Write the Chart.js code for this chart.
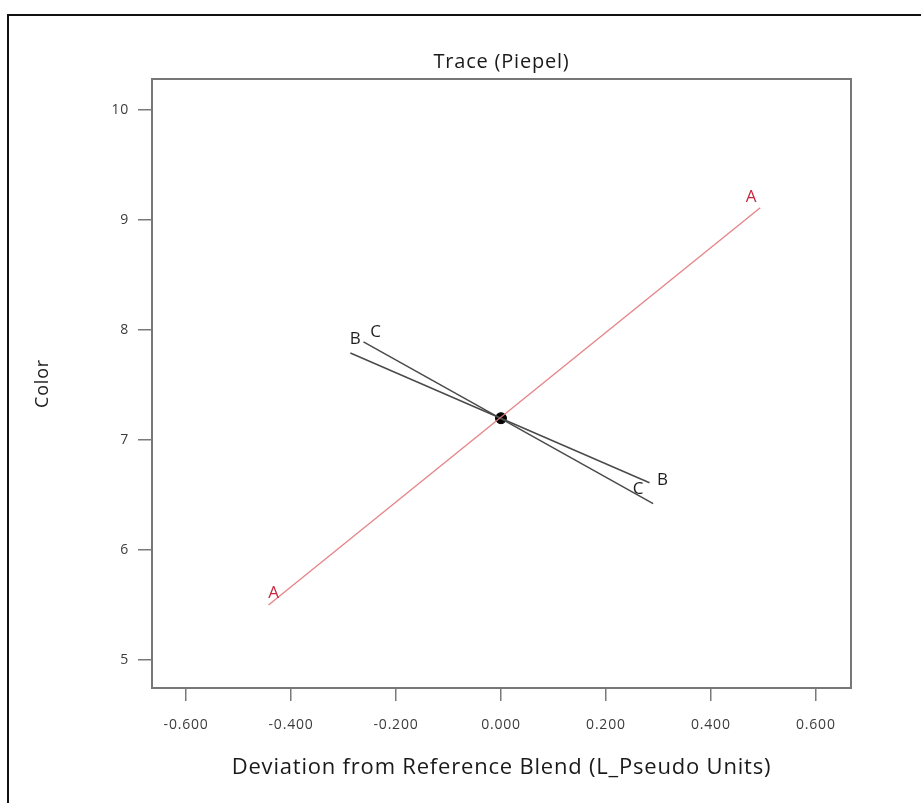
<!DOCTYPE html>
<html>
<head>
<meta charset="utf-8">
<title>Trace (Piepel)</title>
<script src="https://cdn.jsdelivr.net/npm/chart.js@4/dist/chart.umd.min.js"></script>
<style>
  html, body { margin: 0; padding: 0; background: #ffffff; }
  #wrap { width: 921px; height: 803px; position: relative; }
</style>
</head>
<body>
<div id="wrap"><canvas id="c" width="921" height="803"></canvas></div>
<script>
// Trace lines: component deviation vs. predicted Color (two end points each)
const traceNames = ['A', 'B', 'C'];
const aX = [-0.443, 0.494];
const aY = [5.50, 9.11];
const bX = [-0.287, 0.283];
const bY = [7.79, 6.61];
const cX = [-0.262, 0.290];
const cY = [7.89, 6.42];
// reference blend point
const refX = [0.000];
const refY = [7.197];

// axis ticks
const xTickValues = [-0.6, -0.4, -0.2, 0.0, 0.2, 0.4, 0.6];
const xTickLabels = ['-0.600', '-0.400', '-0.200', '0.000', '0.200', '0.400', '0.600'];
const yTickValues = [5, 6, 7, 8, 9, 10];
const yTickLabels = ['5', '6', '7', '8', '9', '10'];

const FONT = "'Open Sans', 'Noto Sans', sans-serif";
const toPoints = (xs, ys) => xs.map((x, i) => ({ x: x, y: ys[i] }));

const traceStyle = {
  A: { line: 'rgba(226,120,124,0.9)', text: '#c8283c' },
  B: { line: '#4a4a4a', text: '#1e1e1e' },
  C: { line: '#4a4a4a', text: '#1e1e1e' }
};
// letter placement relative to each line end (pixels): [start end, finish end]
const labelOffsets = {
  A: [[5, -12], [-9, -11]],
  B: [[5, -14], [13, -3]],
  C: [[12, -10], [-15, -15]]
};

const traceData = { A: toPoints(aX, aY), B: toPoints(bX, bY), C: toPoints(cX, cY) };

const datasets = traceNames.map(name => ({
  label: name,
  type: 'line',
  data: traceData[name],
  borderColor: traceStyle[name].line,
  borderWidth: name === 'A' ? 1.4 : 1.5,
  pointRadius: 0,
  fill: false,
  tension: 0
}));
datasets.push({
  label: 'Reference',
  type: 'scatter',
  data: toPoints(refX, refY),
  pointRadius: 5.5,
  pointBackgroundColor: '#000000',
  pointBorderColor: '#000000'
});

// outer page border, plot frame and the slightly open letter spacing used for text
const framePlugin = {
  id: 'frames',
  beforeDraw(chart) {
    const ctx = chart.ctx;
    ctx.letterSpacing = '0.8px';
    ctx.save();
    ctx.strokeStyle = '#111111';
    ctx.lineWidth = 2;
    ctx.beginPath();
    ctx.moveTo(8, 803);
    ctx.lineTo(8, 15);
    ctx.lineTo(921, 15);
    ctx.stroke();
    ctx.restore();
  },
  beforeDatasetsDraw(chart) {
    const a = chart.chartArea;
    const ctx = chart.ctx;
    ctx.save();
    ctx.strokeStyle = '#777777';
    ctx.lineWidth = 2;
    ctx.strokeRect(a.left, a.top, a.right - a.left, a.bottom - a.top);
    ctx.restore();
  }
};

// letters at both ends of each trace line
const traceLabelPlugin = {
  id: 'traceLabels',
  afterDatasetsDraw(chart) {
    const ctx = chart.ctx;
    const xs = chart.scales.x, ys = chart.scales.y;
    ctx.save();
    ctx.letterSpacing = '0px';
    ctx.font = '17px ' + FONT;
    ctx.textAlign = 'center';
    ctx.textBaseline = 'middle';
    traceNames.forEach(name => {
      const pts = traceData[name];
      [0, pts.length - 1].forEach((idx, k) => {
        const px = xs.getPixelForValue(pts[idx].x);
        const py = ys.getPixelForValue(pts[idx].y);
        const off = labelOffsets[name][k];
        ctx.fillStyle = traceStyle[name].text;
        ctx.fillText(name, px + off[0], py + off[1]);
      });
    });
    ctx.restore();
  }
};

new Chart(document.getElementById('c'), {
  data: { datasets: datasets },
  options: {
    responsive: false,
    animation: false,
    devicePixelRatio: 1,
    layout: { padding: { left: 0, right: 70, top: 0, bottom: 0 } },
    plugins: {
      legend: { display: false },
      tooltip: { enabled: false },
      title: {
        display: true,
        text: 'Trace (Piepel)',
        fullSize: false,
        color: '#1a1a1a',
        font: { family: FONT, size: 20, weight: 'normal' },
        padding: { top: 50, bottom: 5 }
      }
    },
    scales: {
      x: {
        type: 'linear',
        position: 'bottom',
        min: -0.665,
        max: 0.667,
        afterFit: s => { s.height = 115; },
        afterBuildTicks: s => { s.ticks = xTickValues.map(v => ({ value: v })); },
        grid: { display: true, drawOnChartArea: false, drawTicks: true, tickLength: 13, color: '#7a7a7a', lineWidth: 1.5 },
        border: { display: true, color: '#777777', width: 2 },
        ticks: {
          color: '#3c3c3c',
          font: { family: FONT, size: 14 },
          padding: 16,
          maxRotation: 0,
          callback: (v) => { const i = xTickValues.findIndex(t => Math.abs(t - v) < 1e-9); return i >= 0 ? xTickLabels[i] : ''; }
        },
        title: {
          display: true,
          text: 'Deviation from Reference Blend (L_Pseudo Units)',
          color: '#1a1a1a',
          font: { family: FONT, size: 22 },
          padding: { top: 22, bottom: 22 }
        }
      },
      y: {
        type: 'linear',
        position: 'left',
        min: 4.745,
        max: 10.28,
        afterFit: s => { s.width = 152; },
        afterBuildTicks: s => { s.ticks = yTickValues.map(v => ({ value: v })); },
        grid: { display: true, drawOnChartArea: false, drawTicks: true, tickLength: 14, color: '#7a7a7a', lineWidth: 1.5 },
        border: { display: true, color: '#777777', width: 2 },
        ticks: {
          color: '#3c3c3c',
          font: { family: FONT, size: 14 },
          padding: 9,
          callback: (v) => { const i = yTickValues.indexOf(v); return i >= 0 ? yTickLabels[i] : ''; }
        },
        title: {
          display: true,
          text: 'Color',
          color: '#1a1a1a',
          font: { family: FONT, size: 18 },
          padding: { top: 32, bottom: 32 }
        }
      }
    }
  },
  plugins: [framePlugin, traceLabelPlugin]
});
</script>
</body>
</html>
